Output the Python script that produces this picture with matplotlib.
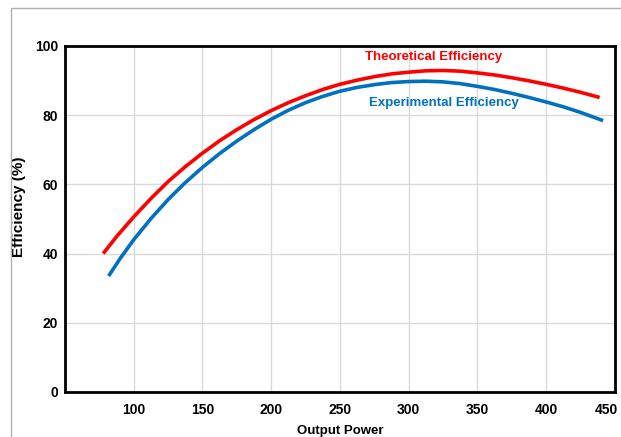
import matplotlib
matplotlib.use("Agg")
from matplotlib import pyplot as plt
from matplotlib.patches import Rectangle
from matplotlib.transforms import ScaledTranslation

# values
theo_x = [77.8, 87.5, 100, 112.5, 125, 137.5, 150, 162.5, 175, 187.5, 200, 212.5, 225, 237.5,
          250, 262.5, 275, 287.5, 300, 312.5, 325, 337.5, 350, 362.5, 375, 387.5, 400, 412.5,
          425, 439]
theo_y = [40.0, 44.9, 50.6, 55.9, 60.8, 65.1, 69.0, 72.6, 75.8, 78.7, 81.3, 83.6, 85.6, 87.4,
          88.9, 90.1, 91.1, 91.9, 92.4, 92.8, 92.9, 92.7, 92.2, 91.6, 90.8, 89.9, 88.9, 87.8,
          86.6, 85.1]
exp_x = [81.7, 90, 100, 112.5, 125, 137.5, 150, 162.5, 175, 187.5, 200, 212.5, 225, 237.5,
         250, 262.5, 275, 287.5, 300, 312.5, 325, 337.5, 350, 362.5, 375, 387.5, 400, 412.5,
         425, 441.5]
exp_y = [33.5, 38.5, 44.0, 50.1, 55.6, 60.5, 64.9, 68.9, 72.5, 75.8, 78.8, 81.4, 83.6, 85.4,
         86.9, 88.0, 88.8, 89.4, 89.7, 89.8, 89.6, 89.1, 88.3, 87.4, 86.3, 85.1, 83.8, 82.4,
         80.8, 78.4]
xticks = [100, 150, 200, 250, 300, 350, 400, 450]
yticks = [0, 20, 40, 60, 80, 100]

plt.rcParams['font.family'] = ['Liberation Sans', 'DejaVu Sans']
plt.rcParams['font.weight'] = 'bold'

fig = plt.figure(figsize=(6.21, 4.37), dpi=100)
# thin grey frame of the cropped screenshot
fig.patches.append(Rectangle((11/621, -0.1), 1.2, 1 - 8/437 + 0.1, transform=fig.transFigure,
                             fill=False, edgecolor='#b0b0b0', linewidth=1))
ax = fig.add_axes([0.1047, 0.103, 0.8853, 0.792])

ax.plot(theo_x, theo_y, color='#ff0000', linewidth=2.6, solid_capstyle='butt', solid_joinstyle='round')
ax.plot(exp_x, exp_y, color='#0070c0', linewidth=2.6, solid_capstyle='butt', solid_joinstyle='round')

ax.text(318, 96.8, "Theoretical Efficiency", color='#ff0000', fontsize=9.5, fontweight='bold',
        ha='center', va='center')
ax.text(325.6, 83.4, "Experimental Efficiency", color='#0070c0', fontsize=9.5, fontweight='bold',
        ha='center', va='center')

ax.set_xlim(50, 450)
ax.set_ylim(0, 100)
ax.set_xticks(xticks)
ax.set_yticks(yticks)
ax.grid(True, color='#d9d9d9', linewidth=1)
ax.set_axisbelow(True)
ax.tick_params(length=0, labelsize=10)
ax.tick_params(axis='x', pad=8)
ax.tick_params(axis='y', pad=5)
for s in ax.spines.values():
    s.set_linewidth(2)
    s.set_color('black')

# last x label pulled in a bit, like the reference
last = ax.get_xticklabels()[-1]
last.set_transform(last.get_transform() + ScaledTranslation(-0.08, 0, fig.dpi_scale_trans))

ax.set_xlabel("Output Power", fontsize=9.5, fontweight='bold', labelpad=6)
ax.set_ylabel("Efficiency (%)", fontsize=11, fontweight='bold')
ax.yaxis.set_label_coords((26 - 65) / 550, 0.535)

fig.savefig("out.png", dpi=100)
